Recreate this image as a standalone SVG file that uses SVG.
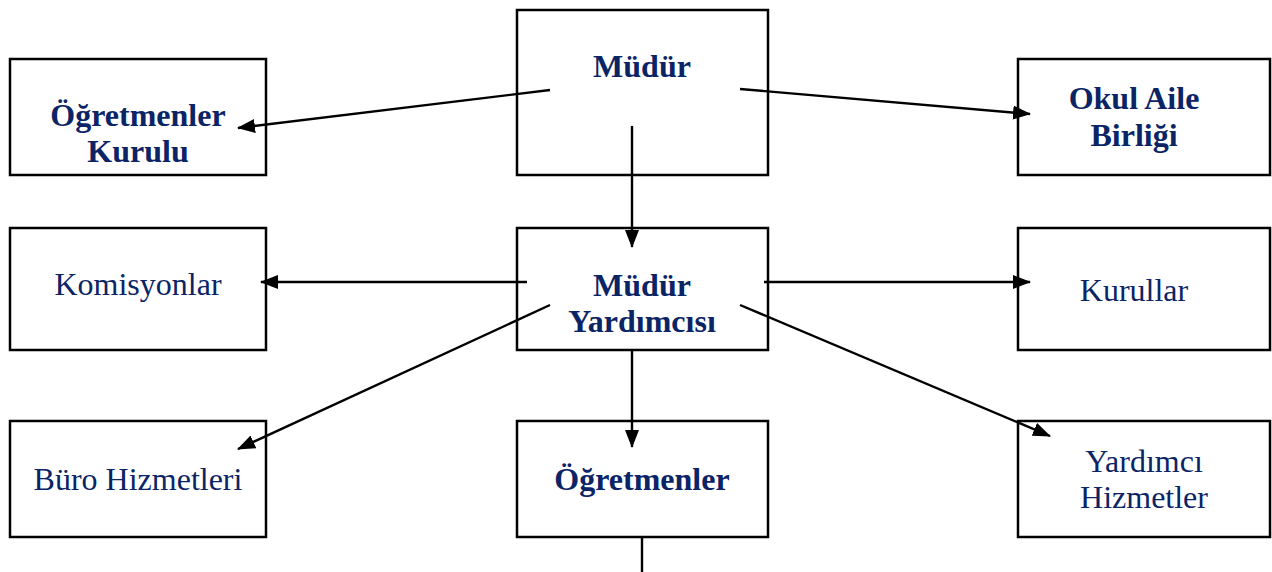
<svg xmlns="http://www.w3.org/2000/svg" width="1272" height="572" viewBox="0 0 1272 572">
<style>
.box{fill:#fff;stroke:#000;stroke-width:2.5}
.t{font-family:"Liberation Serif","Times New Roman",serif;font-size:32px;fill:#0b2466;text-anchor:middle}
.b{font-weight:bold}
.c{stroke:#000;stroke-width:2.4;fill:none}
</style>
<defs>
<marker id="ah" viewBox="0 0 18 14" refX="17" refY="7" markerWidth="18" markerHeight="14" markerUnits="userSpaceOnUse" orient="auto">
<path d="M0,0 L18,7 L0,14 Z" fill="#000"/>
</marker>
</defs>
<g id="ogretmenler-kurulu"><rect class="box" x="10" y="59" width="256" height="116"/><text class="t b" x="138" y="126">Öğretmenler</text><text class="t b" x="138" y="162">Kurulu</text></g>
<g id="mudur"><rect class="box" x="517" y="10" width="251" height="165"/><text class="t b" x="642" y="77">Müdür</text></g>
<g id="okul-aile"><rect class="box" x="1018" y="59" width="252" height="116"/><text class="t b" x="1134" y="109">Okul Aile</text><text class="t b" x="1134" y="146">Birliği</text></g>
<g id="komisyonlar"><rect class="box" x="10" y="228" width="256" height="122"/><text class="t" x="138" y="295">Komisyonlar</text></g>
<g id="mudur-yardimcisi"><rect class="box" x="517" y="228" width="251" height="122"/><text class="t b" x="642" y="296">Müdür</text><text class="t b" x="642" y="332">Yardımcısı</text></g>
<g id="kurullar"><rect class="box" x="1018" y="228" width="252" height="122"/><text class="t" x="1134" y="301">Kurullar</text></g>
<g id="buro"><rect class="box" x="10" y="421" width="256" height="116"/><text class="t" x="138" y="490">Büro Hizmetleri</text></g>
<g id="ogretmenler"><rect class="box" x="517" y="421" width="251" height="116"/><text class="t b" x="642" y="490">Öğretmenler</text></g>
<g id="yardimci"><rect class="box" x="1018" y="421" width="252" height="116"/><text class="t" x="1144" y="472">Yardımcı</text><text class="t" x="1144" y="508">Hizmetler</text></g>
<g id="connectors">
<line class="c" x1="550" y1="90" x2="238" y2="128" marker-end="url(#ah)"/>
<line class="c" x1="740" y1="89" x2="1030" y2="114" marker-end="url(#ah)"/>
<line class="c" x1="632" y1="126" x2="632" y2="247" marker-end="url(#ah)"/>
<line class="c" x1="527" y1="282" x2="261" y2="282" marker-end="url(#ah)"/>
<line class="c" x1="764" y1="282" x2="1030" y2="282" marker-end="url(#ah)"/>
<line class="c" x1="550" y1="305" x2="238" y2="449" marker-end="url(#ah)"/>
<line class="c" x1="740" y1="305" x2="1050" y2="436" marker-end="url(#ah)"/>
<line class="c" x1="632" y1="350" x2="632" y2="447" marker-end="url(#ah)"/>
<line class="c" x1="642" y1="537" x2="642" y2="572"/>
</g>
</svg>
